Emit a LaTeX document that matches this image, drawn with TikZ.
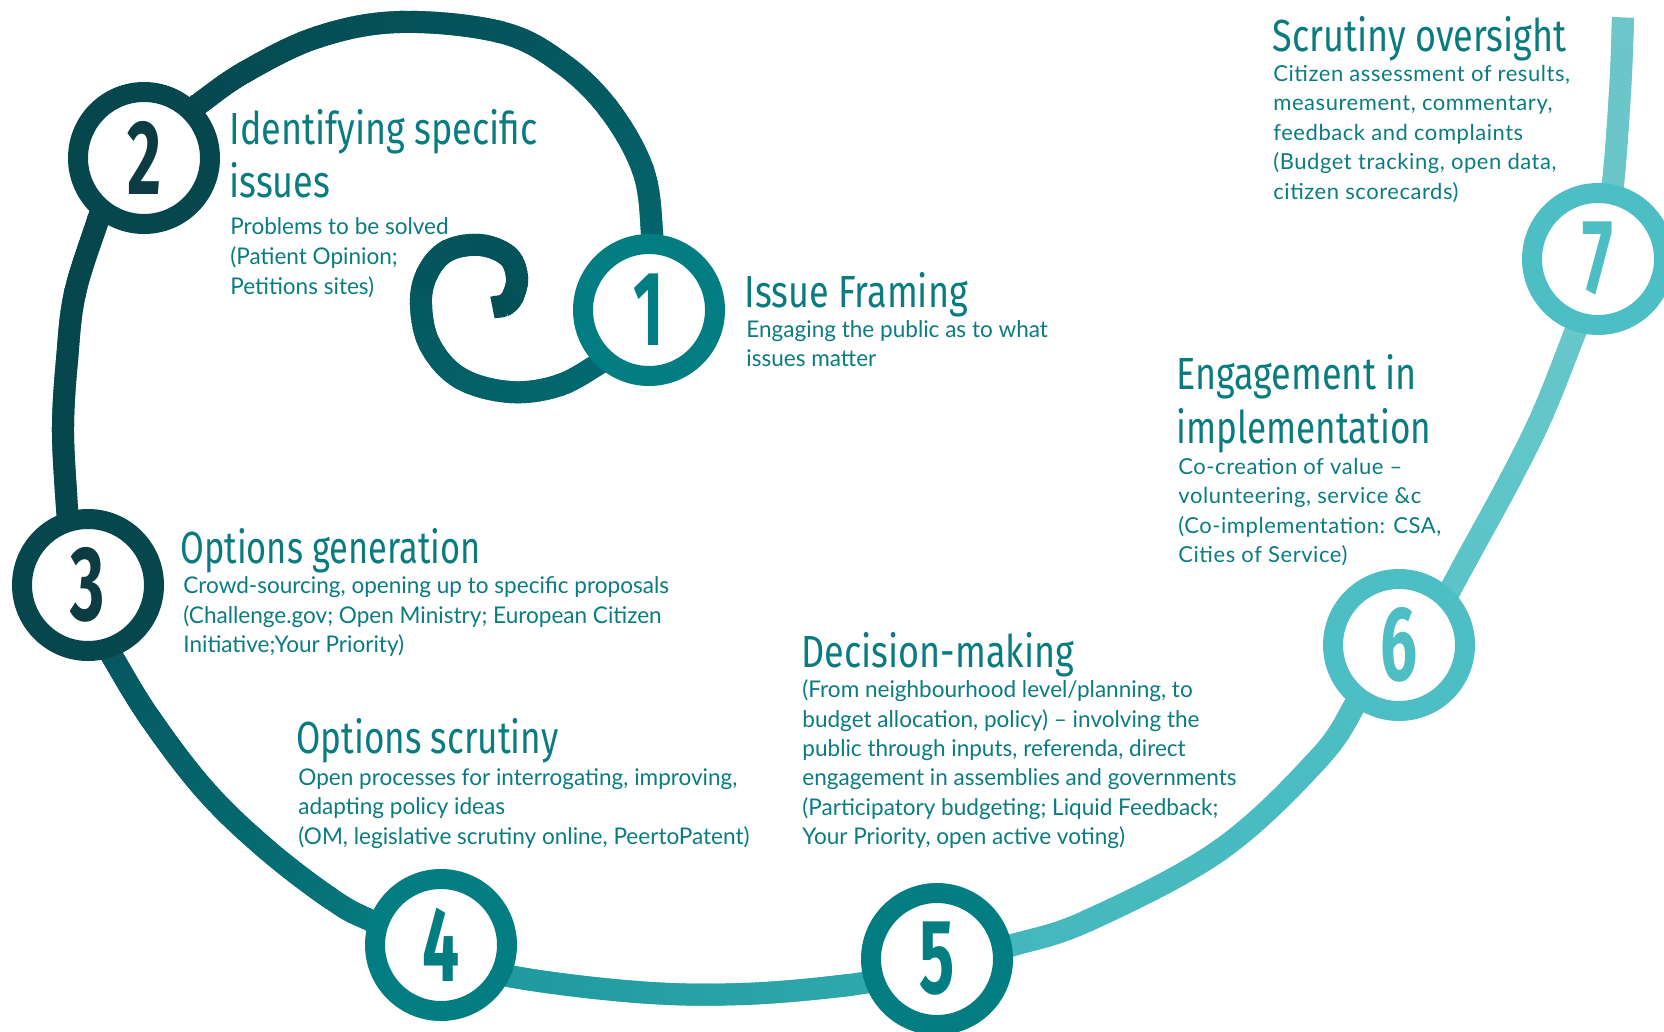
\documentclass[tikz,border=0pt]{standalone}
\usepackage{fontspec}
\newfontfamily\titlefont{Fira Sans}[FakeStretch=0.8]
\newfontfamily\digitfont{Fira Sans}[FakeStretch=0.62]
\newfontfamily\bodyfont{Lato}[FakeStretch=0.98]
\newfontfamily\bodywide{Lato}[LetterSpace=2.5]
\pgfdeclarelayer{bg}
\pgfsetlayers{bg,main}
\definecolor{txt}{HTML}{0A7C80}
\definecolor{rA}{HTML}{027E82}
\definecolor{rB}{HTML}{06464D}
\definecolor{rC}{HTML}{4EBEC5}
\definecolor{dB}{HTML}{0C3C41}
% segment colours
\definecolor{s0a}{HTML}{036E74}\definecolor{s0b}{HTML}{04555C}\definecolor{s0c}{HTML}{044F56}
\definecolor{s1a}{HTML}{02696F}\definecolor{s1b}{HTML}{04545B}\definecolor{s1c}{HTML}{05464C}
\definecolor{s2a}{HTML}{05464C}\definecolor{s2b}{HTML}{05464C}\definecolor{s2c}{HTML}{05474D}
\definecolor{s3a}{HTML}{05505A}\definecolor{s3b}{HTML}{04686E}\definecolor{s3c}{HTML}{088286}
\definecolor{s4a}{HTML}{189599}\definecolor{s4b}{HTML}{27A1A5}\definecolor{s4c}{HTML}{33ABAF}
\definecolor{s5a}{HTML}{3FB5B9}\definecolor{s5b}{HTML}{49BBC0}\definecolor{s5c}{HTML}{51C0C5}
\definecolor{s6a}{HTML}{57C3C7}\definecolor{s6b}{HTML}{62C6C9}\definecolor{s6c}{HTML}{6AC7CA}
\definecolor{s7a}{HTML}{66C5C8}\definecolor{s7b}{HTML}{6BC6C9}\definecolor{s7c}{HTML}{6DC6C9}
\tikzset{
  gbox/.style={rectangle, draw=none, inner sep=0pt, minimum width=2.6pt, minimum height=11pt},
  ring/.style={circle, minimum size=66pt, line width=10pt, fill=white, inner sep=0pt,
    font=\digitfont\bfseries\fontsize{53}{53}\selectfont},
  ttl/.style={font=\titlefont\fontsize{22.5}{27}\selectfont, text=txt, inner sep=0pt, anchor=base west},
  bdy/.style={font=\bodyfont\fontsize{11.5}{14}\selectfont, text=txt, inner sep=0pt, anchor=base west},
  bdw/.style={font=\bodywide\fontsize{11}{14}\selectfont, text=txt, inner sep=0pt, anchor=base west},
}
% #1 x array, #2 y array, #3 number of points, #4 #5 #6 colours (start, middle, end)
\newcommand\gradpath[6]{%
  \pgfmathtruncatemacro\gLast{#3-2}%
  \foreach \gi in {0,...,\gLast}{%
    \pgfmathtruncatemacro\gim{max(\gi-1,0)}%
    \pgfmathtruncatemacro\gip{\gi+1}%
    \pgfmathtruncatemacro\gipp{min(\gi+2,#3-1)}%
    \pgfmathsetmacro\xa{#1[\gi]}%
    \pgfmathsetmacro\ya{#2[\gi]}%
    \pgfmathsetmacro\xb{#1[\gip]}%
    \pgfmathsetmacro\yb{#2[\gip]}%
    \pgfmathsetmacro\xm{#1[\gim]}%
    \pgfmathsetmacro\ym{#2[\gim]}%
    \pgfmathsetmacro\xp{#1[\gipp]}%
    \pgfmathsetmacro\yp{#2[\gipp]}%
    \pgfmathsetmacro\cax{\xa+0.17*(\xb-\xm)}%
    \pgfmathsetmacro\cay{\ya+0.17*(\yb-\ym)}%
    \pgfmathsetmacro\cbx{\xb-0.17*(\xp-\xa)}%
    \pgfmathsetmacro\cby{\yb-0.17*(\yp-\ya)}%
    \pgfmathtruncatemacro\gn{max(4,ceil(veclen(\xb-\xa,\yb-\ya)/3))}%
    \foreach \gk in {0,...,\gn}{%
      \pgfmathsetmacro\gtt{\gk/\gn}%
      \pgfmathsetmacro\gf{100*(\gi+\gtt)/(#3-1)}%
      \ifdim\gf pt<50pt
        \pgfmathsetmacro\gq{min(100,max(0,2*\gf))}%
        \xdef\gcol{#5!\gq!#4}%
      \else
        \pgfmathsetmacro\gq{min(100,max(0,2*\gf-100))}%
        \xdef\gcol{#6!\gq!#5}%
      \fi
      \path (\xa,\ya) .. controls (\cax,\cay) and (\cbx,\cby) .. (\xb,\yb)
        node[gbox, pos=\gtt, sloped, fill=\gcol] {};%
    }%
  }%
}
% curl (from inside circle 1 to the tip)
\def\SaX{{635,605,560,510,460,430,421,427,447,480,508,517,513,505,495}}
\def\SaY{{343,360,385,392,378,345,305,274,251,245,256,277,296,305,307}}
% circle 1 to circle 2 over the top
\def\SbX{{651,652,643,608,560,500,400,318,245,196,163}}
\def\SbY{{270,233,170,108,62,32,22,37,72,106,129}}
% circle 2 to circle 3
\def\ScX{{111,98,75,67,63,66,70}}
\def\ScY{{180,220,293,360,427,493,545}}
% circle 3 to circle 4
\def\SdX{{93,112,150,205,265,330,372,460}}
\def\SdY{{622,656,718,790,848,898,921,955}}
% circle 4 to circle 5
\def\SeX{{460,509,637,743,849,900}}
\def\SeY{{957,976,992,994,985,975}}
% circle 5 to circle 6
\def\SfX{{960,1010,1087,1220,1320,1358,1380}}
\def\SfY{{962,946,921,850,757,700,668}}
% circle 6 to circle 7
\def\SgX{{1430,1462,1510,1543,1576,1590}}
\def\SgY{{628,568,480,413,330,295}}
% circle 7 to the top
\def\ShX{{1605,1613,1620,1623}}
\def\ShY{{225,183,92,20}}
\begin{document}
\begin{tikzpicture}[x=0.5pt,y=-0.5pt]
\useasboundingbox (0,0) rectangle (1664,1032);
\clip (0,0) rectangle (1664,1032);
% circles
\node[ring, draw=rA, text=rA] (c1) at (649,310) {1};
\node[ring, draw=rB, text=dB] (c2) at (144,158) {2};
\node[ring, draw=rB, text=dB] (c3) at (88,585) {3};
\node[ring, draw=rA, text=rA] (c4) at (441,945) {4};
\node[ring, draw=rA, text=rA] (c5) at (937,959) {5};
\node[ring, draw=rC, text=rC] (c6) at (1399,645) {6};
\node[ring, draw=rC, text=rC] (c7) at (1598,259) {7};
% spiral path
\begin{pgfonlayer}{bg}
\gradpath{\SaX}{\SaY}{15}{s0a}{s0b}{s0c}
\gradpath{\SbX}{\SbY}{11}{s1a}{s1b}{s1c}
\gradpath{\ScX}{\ScY}{7}{s2a}{s2b}{s2c}
\gradpath{\SdX}{\SdY}{8}{s3a}{s3b}{s3c}
\gradpath{\SeX}{\SeY}{6}{s4a}{s4b}{s4c}
\gradpath{\SfX}{\SfY}{7}{s5a}{s5b}{s5c}
\gradpath{\SgX}{\SgY}{6}{s6a}{s6b}{s6c}
\gradpath{\ShX}{\ShY}{4}{s7a}{s7b}{s7c}
\end{pgfonlayer}
% block 1
\node[ttl] (t1) at (744,307) {Issue Framing};
\node[bdy] (b1a) at (746,337) {Engaging the public as to what};
\node[bdy] (b1b) at (746,366.5) {issues matter};
% block 2
\node[ttl] (t2a) at (229,145) {Identifying specific};
\node[ttl] (t2b) at (229,198) {issues};
\node[bdy] (b2a) at (230,234.5) {Problems to be solved};
\node[bdy] (b2b) at (230,264) {(Patient Opinion;};
\node[bdy] (b2c) at (230,294) {Petitions sites)};
% block 3
\node[ttl] (t3) at (180,563) {\scalebox{0.956}[1]{Options generation}};
\node[bdy] (b3a) at (183,593) {Crowd-sourcing, opening up to specific proposals};
\node[bdy] (b3b) at (183,623) {(Challenge.gov; Open Ministry; European Citizen};
\node[bdy] (b3c) at (183,652) {Initiative;Your Priority)};
% block 4
\node[ttl] (t4) at (296,753) {\scalebox{0.976}[1]{Options scrutiny}};
\node[bdy] (b4a) at (298,785) {Open processes for interrogating, improving,};
\node[bdy] (b4b) at (298,814) {adapting policy ideas};
\node[bdy] (b4c) at (298,844) {(OM, legislative scrutiny online, PeertoPatent)};
% block 5
\node[ttl] (t5) at (801,667) {Decision-making};
\node[bdy] (b5a) at (802,697) {(From neighbourhood level/planning, to};
\node[bdy] (b5b) at (802,727) {budget allocation, policy) \textendash{} involving the};
\node[bdy] (b5c) at (802,756) {public through inputs, referenda, direct};
\node[bdy] (b5d) at (802,785) {engagement in assemblies and governments};
\node[bdy] (b5e) at (802,815) {(Participatory budgeting; Liquid Feedback;};
\node[bdy] (b5f) at (802,844) {Your Priority, open active voting)};
% block 6
\node[ttl] (t6a) at (1176,389) {Engagement in};
\node[ttl] (t6b) at (1176,443) {\scalebox{0.975}[1]{implementation}};
\node[bdw] (b6a) at (1178,474) {Co-creation of value \textendash};
\node[bdw] (b6b) at (1178,503.5) {volunteering, service \&c};
\node[bdw] (b6c) at (1178,533) {(Co-implementation: CSA,};
\node[bdw] (b6d) at (1178,562.5) {Cities of Service)};
% block 7
\node[ttl] (t7) at (1272,52) {Scrutiny oversight};
\node[bdw] (b7a) at (1273,81.5) {Citizen assessment of results,};
\node[bdw] (b7b) at (1273,111) {measurement, commentary,};
\node[bdw] (b7c) at (1273,140.5) {feedback and complaints};
\node[bdw] (b7d) at (1273,170) {(Budget tracking, open data,};
\node[bdw] (b7e) at (1273,199.5) {citizen scorecards)};
\end{tikzpicture}
\end{document}
